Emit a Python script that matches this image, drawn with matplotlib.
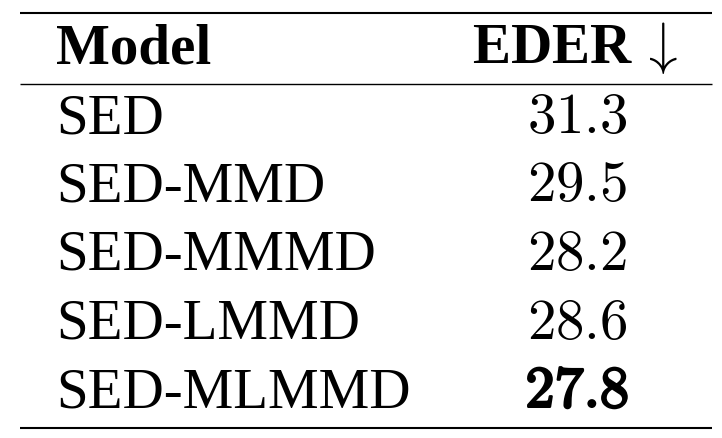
import matplotlib.pyplot as plt
import matplotlib.patheffects as pe

# table contents
models = ["SED", "SED-MMD", "SED-MMMD", "SED-LMMD", "SED-MLMMD"]
eder = ["31.3", "29.5", "28.2", "28.6", "27.8"]
best = "27.8"
header = ["Model", "EDER"]

plt.rcParams['mathtext.fontset'] = 'cm'
serif = ['Liberation Serif', 'DejaVu Serif']

W, H = 722, 438
fig = plt.figure(figsize=(W / 100, H / 100), dpi=100)
ax = fig.add_axes([0, 0, 1, 1])
ax.set_xlim(0, W)
ax.set_ylim(H, 0)
ax.axis('off')

fs = 41
x_model = 56
x_num = 577
y_head = 63
y_first = 133
row_step = 68.5

# rules
ax.plot([20, 712], [13, 13], color='black', lw=1.5, solid_capstyle='butt')
ax.plot([20, 712], [84, 84], color='black', lw=1.0, solid_capstyle='butt')
ax.plot([20, 712], [428, 428], color='black', lw=1.5, solid_capstyle='butt')

# header
ax.text(x_model, y_head, header[0], family=serif, fontweight='bold',
        fontsize=fs, ha='left', va='baseline')
ax.text(x_num - 2, y_head, header[1] + r"$\,\downarrow$", family=serif,
        fontweight='bold', fontsize=fs, ha='center', va='baseline')

# rows
for i, (m, v) in enumerate(zip(models, eder)):
    y = y_first + i * row_step
    ax.text(x_model, y, m, family=serif, fontsize=fs, ha='left', va='baseline')
    if v == best:
        ax.text(x_num, y, r"$\mathbf{%s}$" % v, fontsize=fs + 1, ha='center',
                va='baseline',
                path_effects=[pe.withStroke(linewidth=1.8, foreground='black')])
    else:
        ax.text(x_num, y, r"$%s$" % v, fontsize=fs, ha='center', va='baseline')

fig.savefig("out.png", dpi=100)
